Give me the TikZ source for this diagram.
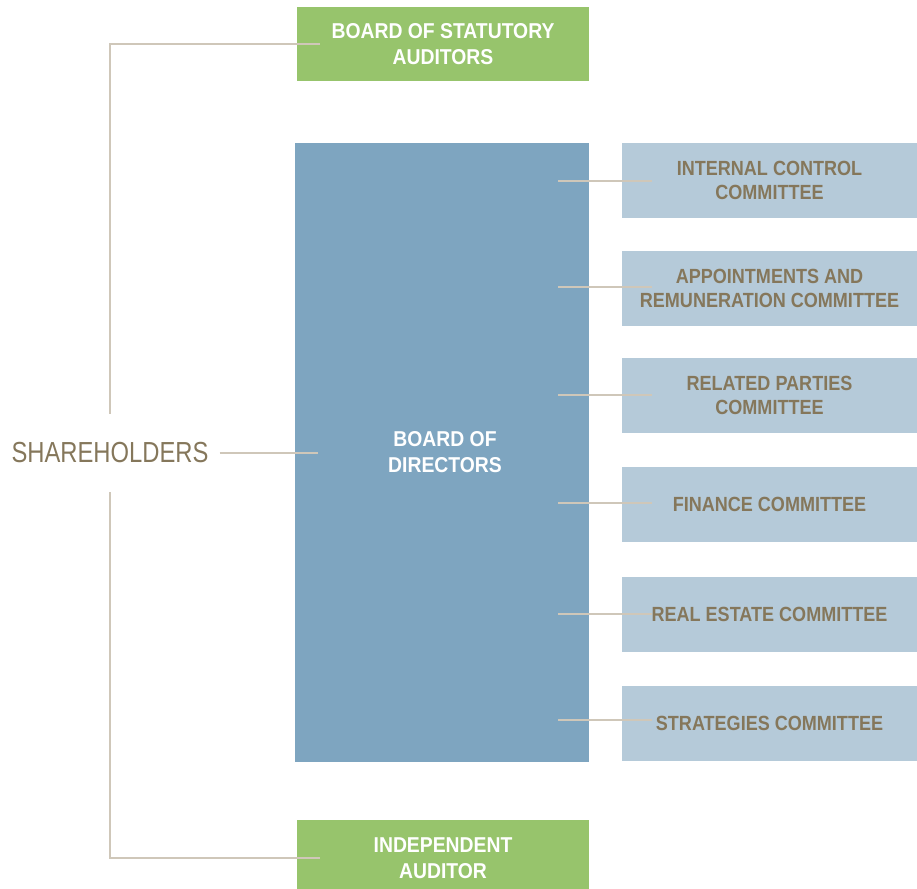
\documentclass[tikz,border=0pt]{standalone}
\usepackage{fontspec}
\setmainfont[FakeStretch=0.82]{Liberation Sans}
\newfontfamily\cmfont[FakeStretch=0.88]{Liberation Sans}
\newfontfamily\whfont[FakeStretch=0.9]{Liberation Sans}
\definecolor{grn}{RGB}{151,196,108}
\definecolor{bdblue}{RGB}{126,165,192}
\definecolor{cmblue}{RGB}{181,202,217}
\definecolor{brn}{RGB}{133,119,91}
\definecolor{lnc}{RGB}{207,199,185}
\begin{document}
\begin{tikzpicture}[x=1pt,y=-1pt,
  whtext/.style={text=white,align=center,font=\whfont\bfseries\fontsize{21.5}{26}\selectfont},
  greenbox/.style={whtext,fill=grn,minimum width=292pt,minimum height=74pt,inner sep=0pt},
  cmbox/.style={fill=cmblue,text=brn,minimum width=295pt,minimum height=75pt,inner sep=0pt,align=center,font=\cmfont\bfseries\fontsize{20.5}{24}\selectfont},
  conn/.style={draw=lnc,line width=2pt}]
\useasboundingbox (0,0) rectangle (917,888);
\node[greenbox] (bsa) at (443,44) {BOARD OF STATUTORY\\AUDITORS};
\node[greenbox,minimum height=76pt] (ia) at (443,858) {INDEPENDENT\\AUDITOR};
\node[fill=bdblue,minimum width=294pt,minimum height=619pt,inner sep=0pt] (bod) at (442,452.5) {};
\node[whtext,inner sep=0pt] (bodt) at (445,452.5) {BOARD OF\\DIRECTORS};
\node[text=brn,font=\fontsize{29}{34}\selectfont,minimum height=78pt,inner xsep=11pt,inner ysep=0pt] (sh) at (110,453) {SHAREHOLDERS};
\node[cmbox] (c1) at (769.5,180.5) {INTERNAL CONTROL\\COMMITTEE};
\node[cmbox] (c2) at (769.5,288.5) {APPOINTMENTS AND\\REMUNERATION COMMITTEE};
\node[cmbox] (c3) at (769.5,395.5) {RELATED PARTIES\\COMMITTEE};
\node[cmbox] (c4) at (769.5,504.5) {FINANCE COMMITTEE};
\node[cmbox] (c5) at (769.5,614.5) {REAL ESTATE COMMITTEE};
\node[cmbox] (c6) at (769.5,723.5) {STRATEGIES COMMITTEE};
\draw[conn,shorten >=-23pt] (sh.north) |- (bsa.west);
\draw[conn,shorten >=-23pt] (sh.south) |- (ia.west);
\draw[conn,shorten >=-23pt] (sh.east) -- (sh.east -| bod.west);
\foreach \c/\y in {c1/181,c2/287,c3/395,c4/503,c5/614,c6/720}{
  \draw[conn,line width=1.5pt] (bod.east |- 0,\y) ++(-31,0) -- (\c.west |- 0,\y) -- ++(30,0);
}
\end{tikzpicture}
\end{document}
